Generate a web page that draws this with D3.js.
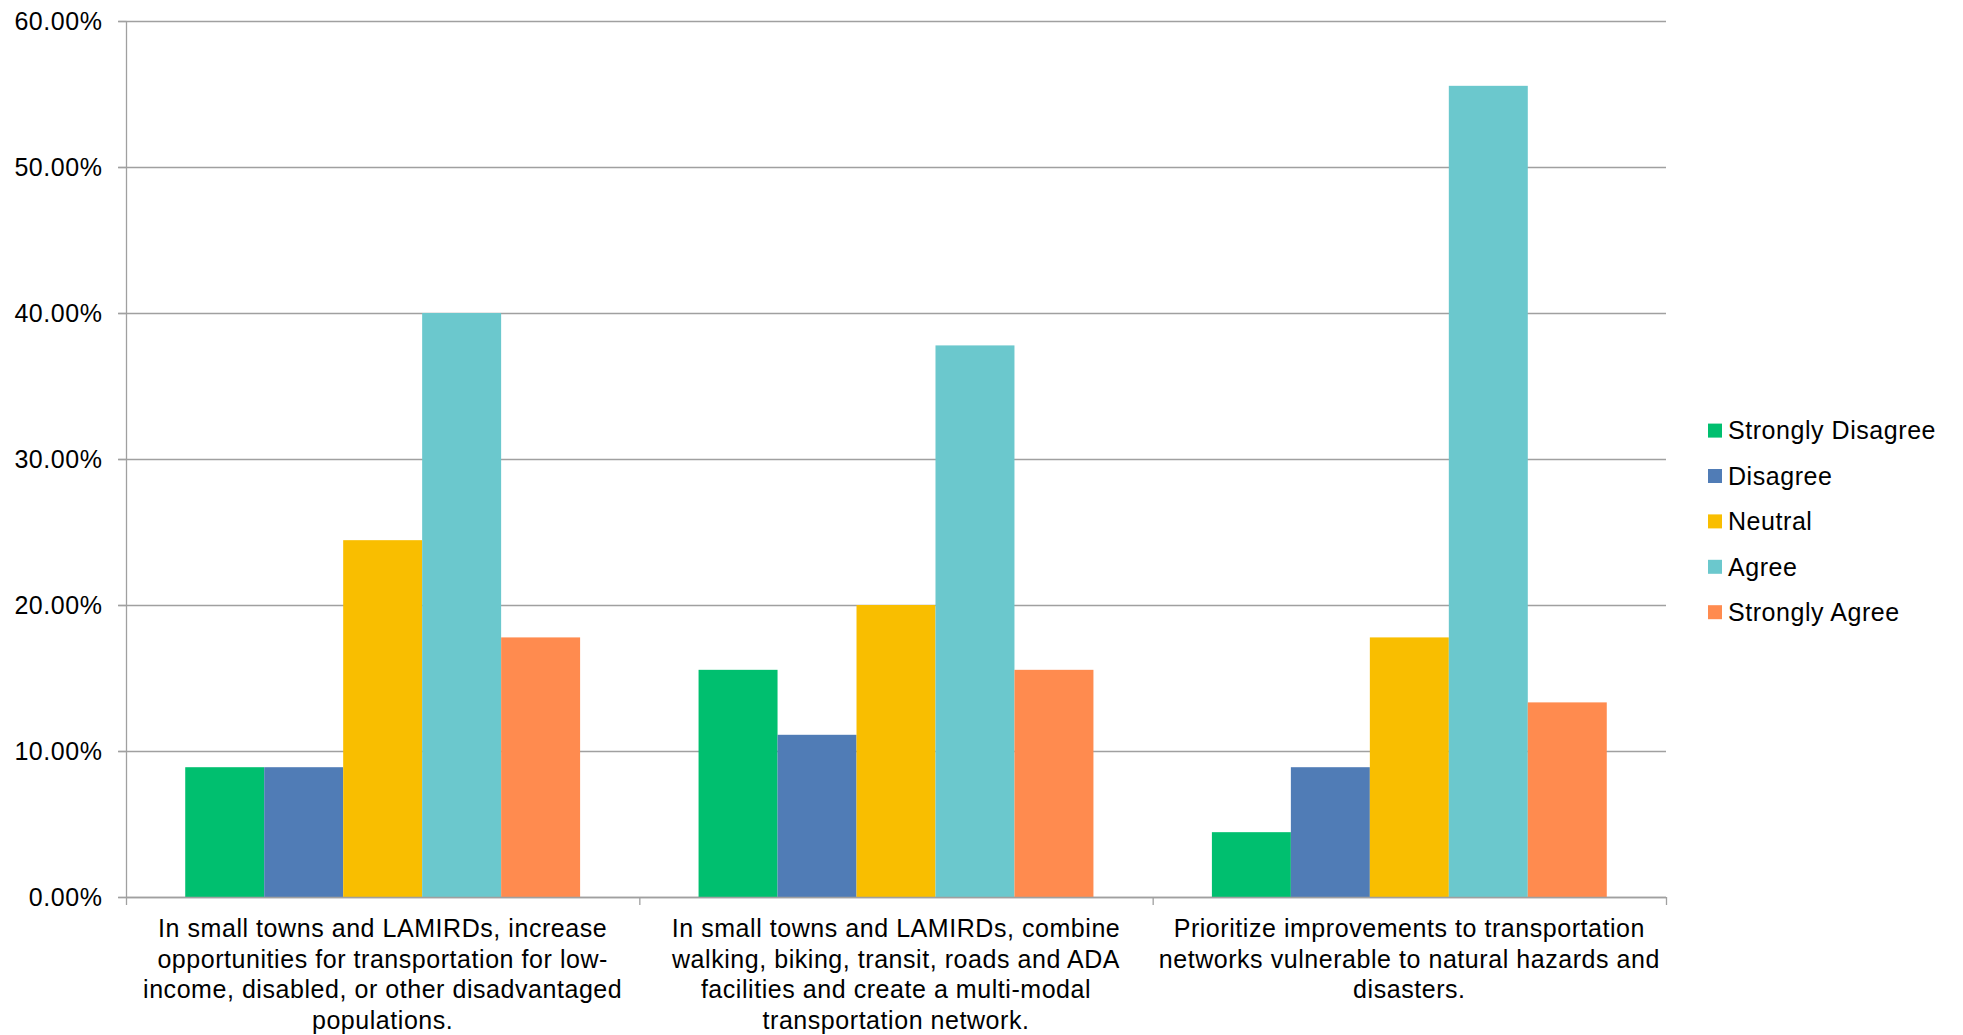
<!DOCTYPE html>
<html>
<head>
<meta charset="utf-8">
<script src="https://cdn.jsdelivr.net/npm/d3@7"></script>
<style>
  html, body { margin: 0; padding: 0; background: #fff; }
  svg { display: block; font-family: "Liberation Sans", Arial, sans-serif; }
</style>
</head>
<body>
<svg id="chart" width="1963" height="1035"></svg>
<script>
// ---- data ----
const categories = ["c1", "c2", "c3"];
const categoryLabels = [
  ["In small towns and LAMIRDs, increase", "opportunities for transportation for low-", "income, disabled, or other disadvantaged", "populations."],
  ["In small towns and LAMIRDs, combine", "walking, biking, transit, roads and ADA", "facilities and create a multi-modal", "transportation network."],
  ["Prioritize improvements to transportation", "networks vulnerable to natural hazards and", "disasters."]
];
const seriesNames = ["Strongly Disagree", "Disagree", "Neutral", "Agree", "Strongly Agree"];
const seriesColors = ["#00BF6F", "#507CB6", "#F9BE00", "#6BC8CD", "#FF8B4F"];
const stronglyDisagree = [0.0889, 0.1556, 0.0444];
const disagree         = [0.0889, 0.1111, 0.0889];
const neutral          = [0.2444, 0.2000, 0.1778];
const agree            = [0.4000, 0.3778, 0.5556];
const stronglyAgree    = [0.1778, 0.1556, 0.1333];
const yTicks = [0, 0.1, 0.2, 0.3, 0.4, 0.5, 0.6];

const seriesValues = [stronglyDisagree, disagree, neutral, agree, stronglyAgree];

// ---- layout ----
const svg = d3.select("#chart");
const plotLeft = 126, plotRight = 1666, plotTop = 21, plotBottom = 897;
const fontSize = 25, letterSp = 0.55;
const gridColor = "#a0a0a0";

const y = d3.scaleLinear().domain([0, 0.6]).range([plotBottom, plotTop]);
const x0 = d3.scaleBand().domain(categories).range([plotLeft, plotRight]).paddingInner(0).paddingOuter(0);
const x1 = d3.scaleBand().domain(seriesNames).range([0, x0.bandwidth()]).paddingInner(0).paddingOuter(0.75);

// gridlines
svg.append("g").selectAll("line").data(yTicks).join("line")
  .attr("x1", plotLeft - 8).attr("x2", plotRight)
  .attr("y1", d => y(d) + 0.5).attr("y2", d => y(d) + 0.5)
  .attr("stroke", gridColor).attr("stroke-width", 1.3);

// bars
const groups = svg.append("g").selectAll("g").data(categories).join("g")
  .attr("transform", c => `translate(${x0(c)},0)`);
groups.selectAll("rect")
  .data((c, ci) => seriesNames.map((s, si) => ({ s, si, v: seriesValues[si][ci] })))
  .join("rect")
  .attr("x", d => x1(d.s))
  .attr("width", x1.bandwidth())
  .attr("y", d => y(d.v))
  .attr("height", d => y(0) - y(d.v))
  .attr("fill", d => seriesColors[d.si]);

// y axis
const yAxis = d3.axisLeft(y).tickValues(yTicks).tickSize(8).tickPadding(16)
  .tickFormat(d => (d * 100).toFixed(2) + "%");
const gy = svg.append("g").attr("transform", `translate(${plotLeft + 0.5},0)`).call(yAxis);
gy.select(".domain").attr("stroke", gridColor).attr("stroke-width", 1.3).attr("d", `M0,${plotTop}V${plotBottom}`);
gy.selectAll(".tick line").attr("stroke", gridColor).attr("stroke-width", 1.3);
gy.selectAll(".tick text").attr("font-size", fontSize).attr("fill", "#000")
  .attr("font-family", "Liberation Sans, Arial, sans-serif").attr("letter-spacing", letterSp).attr("dy", "0.35em");

// x axis line and boundary ticks
const gx = svg.append("g");
gx.append("line").attr("x1", plotLeft).attr("x2", plotRight).attr("y1", plotBottom + 0.5).attr("y2", plotBottom + 0.5)
  .attr("stroke", gridColor).attr("stroke-width", 1.3);
const boundaries = categories.map(c => x0(c)).concat([x0(categories[categories.length - 1]) + x0.bandwidth()]);
gx.selectAll("line.b").data(boundaries).join("line").attr("class", "b")
  .attr("x1", d => d + 0.5).attr("x2", d => d + 0.5).attr("y1", plotBottom).attr("y2", plotBottom + 8)
  .attr("stroke", gridColor).attr("stroke-width", 1.3);

// category labels
const lab = svg.append("g").selectAll("text").data(categories).join("text")
  .attr("x", c => x0(c) + x0.bandwidth() / 2)
  .attr("y", 937)
  .attr("text-anchor", "middle")
  .attr("font-size", fontSize)
  .attr("letter-spacing", letterSp)
  .attr("fill", "#000");
lab.selectAll("tspan").data((c, i) => categoryLabels[i]).join("tspan")
  .attr("x", function() { return d3.select(this.parentNode).attr("x"); })
  .attr("dy", (d, i) => i === 0 ? 0 : 30.5)
  .text(d => d);

// legend
const legend = svg.append("g").selectAll("g").data(seriesNames).join("g")
  .attr("transform", (d, i) => `translate(1708,${430.6 + i * 45.4})`);
legend.append("rect").attr("x", 0).attr("y", -7).attr("width", 14).attr("height", 14)
  .attr("fill", (d, i) => seriesColors[i]);
legend.append("text").attr("x", 20).attr("y", 0).attr("dy", "0.35em")
  .attr("font-size", fontSize).attr("letter-spacing", letterSp).attr("fill", "#000")
  .text(d => d);
</script>
</body>
</html>
